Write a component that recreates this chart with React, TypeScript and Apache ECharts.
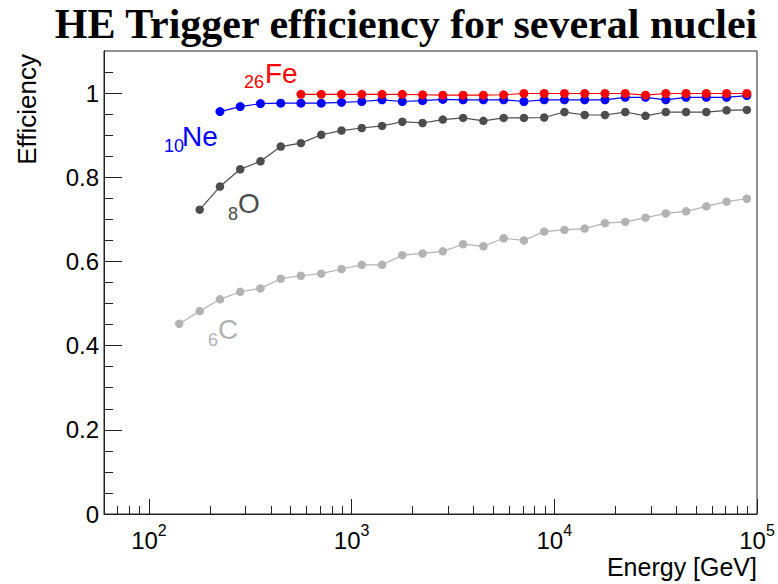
import React, { useEffect, useRef } from "react";
import * as echarts from "echarts";

// Bin centres (GeV), 10 bins per decade
const energyGeV = [
  141, 178, 224, 282, 355, 447, 562, 708, 891, 1122, 1413, 1778, 2239, 2818,
  3548, 4467, 5623, 7079, 8913, 11220, 14125, 17783, 22387, 28184, 35481,
  44668, 56234, 70795, 89125,
];

// Trigger efficiency per nucleus; each series ends at the last energy bin
const effCarbon = [
  0.452, 0.482, 0.51, 0.528, 0.536, 0.559, 0.566, 0.571, 0.582, 0.592, 0.592,
  0.615, 0.619, 0.624, 0.641, 0.636, 0.655, 0.65, 0.671, 0.675, 0.678, 0.691,
  0.694, 0.704, 0.714, 0.719, 0.731, 0.742, 0.749,
];
const effOxygen = [
  0.723, 0.778, 0.819, 0.838, 0.873, 0.881, 0.901, 0.911, 0.917, 0.922, 0.932,
  0.929, 0.937, 0.941, 0.934, 0.941, 0.941, 0.942, 0.955, 0.948, 0.948, 0.955,
  0.946, 0.955, 0.955, 0.955, 0.959, 0.96,
];
const effNeon = [
  0.956, 0.968, 0.975, 0.976, 0.976, 0.976, 0.978, 0.98, 0.984, 0.98, 0.982,
  0.985, 0.984, 0.984, 0.984, 0.98, 0.984, 0.984, 0.984, 0.984, 0.99, 0.99,
  0.984, 0.99, 0.99, 0.99, 0.994,
];
const effIron = [
  0.997, 0.997, 0.997, 0.997, 0.997, 0.997, 0.996, 0.995, 0.995, 0.995, 0.996,
  0.999, 0.999, 0.999, 0.999, 0.999, 0.999, 0.995, 0.999, 0.999, 0.999, 0.999,
  0.999,
];

const energyMajorTicks = [100, 1000, 10000, 100000];
const energyMinorTicks = [
  70, 80, 90, 200, 300, 400, 500, 600, 700, 800, 900, 2000, 3000, 4000, 5000,
  6000, 7000, 8000, 9000, 20000, 30000, 40000, 50000, 60000, 70000, 80000,
  90000,
];
const effMajorTicks = [0, 0.2, 0.4, 0.6, 0.8, 1];
const effMinorTicks = [
  0.05, 0.1, 0.15, 0.25, 0.3, 0.35, 0.45, 0.5, 0.55, 0.65, 0.7, 0.75, 0.85,
  0.9, 0.95, 1.05,
];

const SANS = "Liberation Sans";
const FRAME = "#222";

// pair each efficiency with its energy bin (series are right-aligned)
const pairUp = (values: number[]) =>
  values.map((v, i) => [energyGeV[energyGeV.length - values.length + i], v]);

const nuclei = [
  { name: "C", z: "6", values: effCarbon, color: "#b3b3b3", size: 8.5 },
  { name: "O", z: "8", values: effOxygen, color: "#4d4d4d", size: 8.5 },
  { name: "Ne", z: "10", values: effNeon, color: "#0000ff", size: 9 },
  { name: "Fe", z: "26", values: effIron, color: "#ff0000", size: 9 },
];

// annotation anchors: [sub x, sub y, symbol x, symbol y]
const tagPos: Record<string, number[]> = {
  Fe: [244, 82, 265, 73],
  Ne: [164, 146, 182, 136],
  O: [228, 214, 238, 203],
  C: [208, 340, 218, 329],
};

export default function App() {
  const ref = useRef<HTMLDivElement>(null);

  useEffect(() => {
    if (!ref.current) return;
    const chart = echarts.init(ref.current, null, { renderer: "svg" });

    const tagTexts: any[] = [];
    nuclei.forEach((n) => {
      const p = tagPos[n.name];
      tagTexts.push({
        type: "text",
        x: p[0],
        y: p[1],
        style: {
          text: n.z,
          fill: n.color,
          font: `18px "${SANS}"`,
          align: "left",
          verticalAlign: "middle",
        },
      });
      tagTexts.push({
        type: "text",
        x: p[2],
        y: p[3],
        style: {
          text: n.name,
          fill: n.color,
          font: `28px "${SANS}"`,
          align: "left",
          verticalAlign: "middle",
        },
      });
    });

    chart.setOption({
      animation: false,
      backgroundColor: "#fff",
      title: {
        text: "HE Trigger efficiency for several nuclei",
        left: 406,
        top: 3,
        textAlign: "center",
        padding: 0,
        textStyle: {
          fontFamily: "Liberation Serif",
          fontWeight: "bold",
          fontSize: 42,
          color: "#000",
        },
      },
      grid: {
        left: 104,
        right: 21,
        top: 51,
        bottom: 70,
        show: true,
        borderColor: FRAME,
        borderWidth: 1,
        outerBoundsMode: "none",
      },
      xAxis: [
        {
          type: "log",
          logBase: 10,
          min: 60,
          max: 100000,
          position: "bottom",
          axisLine: { show: true, lineStyle: { color: FRAME, width: 1 } },
          axisTick: {
            show: true,
            inside: true,
            length: 15,
            customValues: energyMajorTicks,
            lineStyle: { color: FRAME, width: 1 },
          },
          axisLabel: {
            show: true,
            customValues: energyMajorTicks,
            margin: 8,
            fontFamily: SANS,
            fontSize: 24,
            lineHeight: 36,
            color: "#000",
            formatter: (v: number) => `10{sup|${Math.round(Math.log10(v))}}`,
            rich: {
              sup: {
                fontFamily: SANS,
                fontSize: 16,
                lineHeight: 16,
                verticalAlign: "top",
                color: "#000",
              },
            },
          },
          splitLine: { show: false },
        },
        {
          type: "log",
          logBase: 10,
          min: 60,
          max: 100000,
          position: "bottom",
          axisLine: { show: false },
          axisLabel: { show: false },
          axisTick: {
            show: true,
            inside: true,
            length: 8,
            customValues: energyMinorTicks,
            lineStyle: { color: FRAME, width: 1 },
          },
          splitLine: { show: false },
        },
      ],
      yAxis: [
        {
          type: "value",
          min: 0,
          max: 1.1,
          interval: 0.2,
          position: "left",
          axisLine: { show: true, lineStyle: { color: FRAME, width: 1 } },
          axisTick: {
            show: true,
            inside: true,
            length: 18,
            customValues: effMajorTicks,
            lineStyle: { color: FRAME, width: 1 },
          },
          axisLabel: {
            show: true,
            customValues: effMajorTicks,
            margin: 5,
            fontFamily: SANS,
            fontSize: 24,
            color: "#000",
            formatter: (v: number) => String(Math.round(v * 10) / 10),
          },
          splitLine: { show: false },
        },
        {
          type: "value",
          min: 0,
          max: 1.1,
          position: "left",
          axisLine: { show: false },
          axisLabel: { show: false },
          axisTick: {
            show: true,
            inside: true,
            length: 9,
            customValues: effMinorTicks,
            lineStyle: { color: FRAME, width: 1 },
          },
          splitLine: { show: false },
        },
      ],
      series: nuclei.map((n, i) => ({
        type: "line",
        name: n.name,
        xAxisIndex: 0,
        yAxisIndex: 0,
        data: pairUp(n.values),
        symbol: "circle",
        symbolSize: n.size,
        showSymbol: true,
        showAllSymbol: true,
        z: 2 + i,
        lineStyle: { color: n.color, width: 1.2 },
        itemStyle: { color: n.color },
        emphasis: { disabled: true },
      })),
      graphic: [
        {
          type: "text",
          x: 27,
          y: 54,
          rotation: Math.PI / 2,
          style: {
            text: "Efficiency",
            fill: "#000",
            font: `26px "${SANS}"`,
            align: "right",
            verticalAlign: "middle",
          },
        },
        {
          type: "text",
          x: 757,
          y: 567,
          style: {
            text: "Energy [GeV]",
            fill: "#000",
            font: `25px "${SANS}"`,
            align: "right",
            verticalAlign: "middle",
          },
        },
        ...tagTexts,
      ],
    });

    return () => chart.dispose();
  }, []);

  return (
    <div
      ref={ref}
      style={{ position: "fixed", left: 0, top: 0, width: 778, height: 584 }}
    />
  );
}
